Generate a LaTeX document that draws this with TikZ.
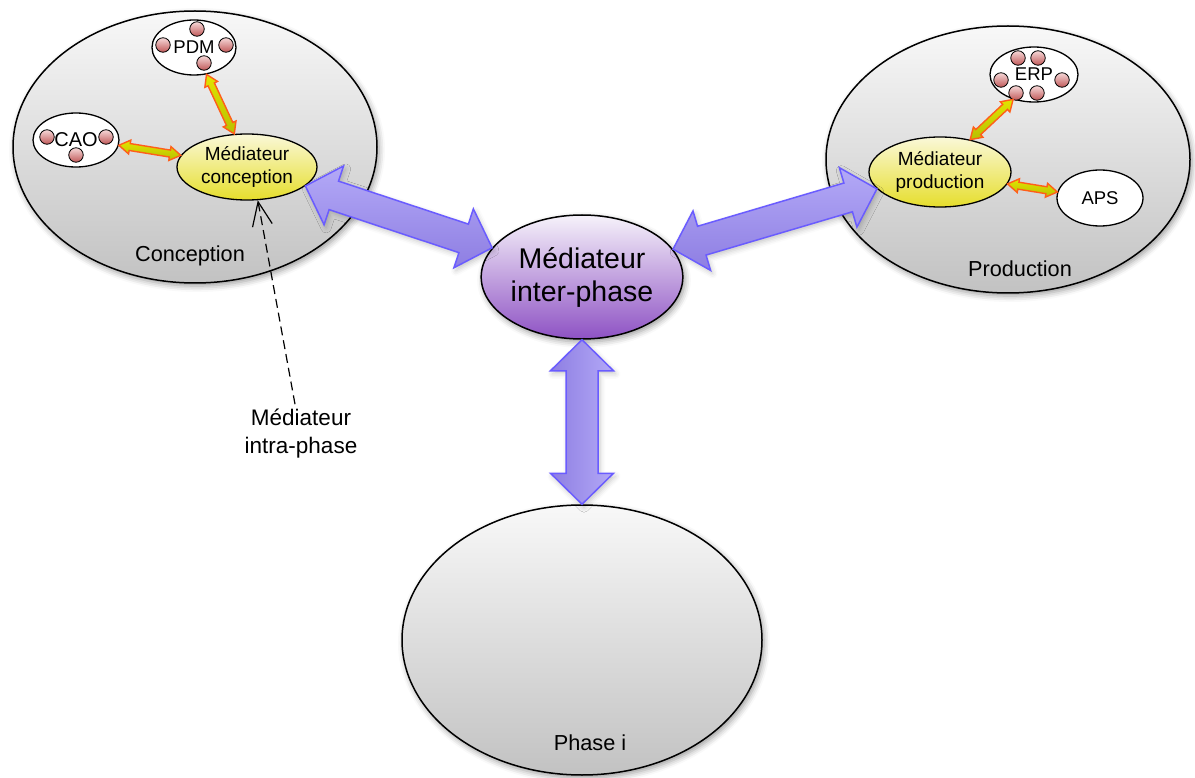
\documentclass[tikz,border=0pt]{standalone}
\usepackage{fontspec}
\setmainfont{Liberation Sans}
\usetikzlibrary{%
  positioning
 ,calc
 ,shapes.geometric
 ,arrows.meta
 ,shadows.blur
}
\definecolor{grTop}{HTML}{F8F8F8}
\definecolor{grBot}{HTML}{C2C2C2}
\definecolor{yeTop}{HTML}{FAF8D8}
\definecolor{yeBot}{HTML}{E6DE2C}
\definecolor{puTop}{HTML}{F6F2FA}
\definecolor{puBot}{HTML}{8E52C4}
\definecolor{blTop}{HTML}{F6D8D8}
\definecolor{blBot}{HTML}{C05858}
\definecolor{faTop}{HTML}{B3A9F7}
\definecolor{faBot}{HTML}{8E7EE2}
\definecolor{faEdge}{HTML}{6A5CFF}
\definecolor{orEdge}{HTML}{FF5E1A}
\definecolor{orTop}{HTML}{E2E400}
\definecolor{orBot}{HTML}{B8C000}
\tikzstyle{shd}=[blur shadow={shadow xshift=2pt,shadow yshift=-3pt,shadow blur radius=6pt,shadow opacity=40}]
\tikzstyle{ph}=[ellipse,draw=black,line width=1.5pt,inner sep=0pt,top color=grTop,bottom color=grBot,shd]
\tikzstyle{med}=[ellipse,draw=black,line width=1.3pt,inner sep=0pt,align=center,top color=yeTop,bottom color=yeBot,
  font=\fontsize{19}{23}\selectfont]
\tikzstyle{tool}=[ellipse,draw=black,line width=1.3pt,inner sep=0pt,fill=white,font=\fontsize{18.5}{22}\selectfont]
\tikzstyle{bl}=[circle,draw=black,line width=.8pt,inner sep=0pt,minimum size=14.5pt,top color=blTop,bottom color=blBot]
\tikzstyle{lb}=[inner sep=0pt,font=\fontsize{21.7}{28}\selectfont]
\tikzstyle{fat}=[draw=faEdge,line width=1.5pt,line join=miter,top color=faTop,bottom color=faBot,
  blur shadow={shadow xshift=2pt,shadow yshift=-3pt,shadow blur radius=5pt,shadow opacity=22}]
\tikzstyle{thin}=[draw=orEdge,line width=1.4pt,line join=miter,top color=orTop,bottom color=orBot]
% double arrow: style, from, to, head length, head half width, shaft half width
\newcommand\darr[6]{%
  \path[#1] (#2)
   -- ($(#2)!#4!(#3)!#5!90:(#3)$) -- ($(#2)!#4!(#3)!#6!90:(#3)$)
   -- ($(#3)!#4!(#2)!#6!270:(#2)$) -- ($(#3)!#4!(#2)!#5!270:(#2)$)
   -- (#3)
   -- ($(#3)!#4!(#2)!#5!90:(#2)$) -- ($(#3)!#4!(#2)!#6!90:(#2)$)
   -- ($(#2)!#4!(#3)!#6!270:(#3)$) -- ($(#2)!#4!(#3)!#5!270:(#3)$)
   -- cycle;}

\begin{document}
\begin{tikzpicture}[x=1pt,y=-1pt]
  \useasboundingbox (0,0) rectangle (1195,778);
  % the phases
  \node[ph,minimum width=364pt,minimum height=272pt](conc) at (195,147){};
  \node[ph,minimum width=364pt,minimum height=267pt](prod) at (1008,159.5){};
  \node[ph,minimum width=360pt,minimum height=270pt](phi) at (582,640){};
  \node[lb](lconc) at ($(conc.south)+(-5,-28)$){Conception};
  \node[lb](lprod) at ($(prod.south)+(12,-25)$){Production};
  \node[lb](lphi) at ($(phi.south)+(8,-33)$){Phase i};
  % the mediators
  \node[ellipse,draw=black,line width=1.5pt,inner sep=0pt,align=center,top color=puTop,bottom color=puBot,shd,
    minimum width=200pt,minimum height=124pt,font=\fontsize{28.5}{33}\selectfont](inter) at (582,277){Médiateur\\inter-phase};
  \node[med,minimum width=140pt,minimum height=66pt](mc) at (247,167){Médiateur\\conception};
  \node[med,minimum width=142pt,minimum height=70pt](mp) at (940,172){Médiateur\\production};
  % the tools
  \node[tool,minimum width=84pt,minimum height=55pt](pdm) at (194,47.5){PDM};
  \node[tool,minimum width=86pt,minimum height=54pt,font=\fontsize{20}{24}\selectfont](cao) at (76,140){CAO};
  \node[tool,minimum width=88pt,minimum height=55pt](erp) at (1034,74.5){ERP};
  \node[tool,minimum width=86pt,minimum height=56pt](aps) at (1100,198){APS};
  \foreach \dx/\dy [count=\i] in {3/-18.5,-31/-2.5,32/-2.5,10/15.5}
    \node[bl](pdm\i) at ($(pdm)+(\dx,\dy)$){};
  \foreach \dx/\dy [count=\i] in {-29/-3,30/-3,0/15}
    \node[bl](cao\i) at ($(cao)+(\dx,\dy)$){};
  \foreach \dx/\dy [count=\i] in {-16/-16.5,4/-16.5,-33/5.5,28/5.5,-18/18.5,3/18.5}
    \node[bl](erp\i) at ($(erp)+(\dx,\dy)$){};
  \node[lb,align=center,font=\fontsize{22.5}{28}\selectfont](intra) at (301,434){Médiateur\\intra-phase};
  % the arrows
  \darr{fat}{mc.-18}{inter.162}{30pt}{31pt}{15pt}
  \darr{fat}{inter.17}{mp.195}{30pt}{31pt}{15pt}
  \darr{fat,left color=faBot,right color=faTop}{inter.south}{phi.north}{31pt}{31.5pt}{16pt}
  \darr{thin}{pdm.-65}{mc.111}{11pt}{7pt}{3.5pt}
  \darr{thin}{cao.-7}{mc.170}{11pt}{7pt}{3.5pt}
  \darr{thin}{erp.230}{mp.47}{11pt}{7pt}{3.5pt}
  \darr{thin}{mp.-10}{aps.172}{11pt}{7pt}{3.5pt}
  \draw[line width=1.2pt,dash pattern=on 9pt off 5pt,-{Straight Barb[length=24pt,width=20pt,line width=1.2pt]}]
    ([xshift=-6pt,yshift=5pt]intra.north) -- (mc.-72);
\end{tikzpicture}
\end{document}
